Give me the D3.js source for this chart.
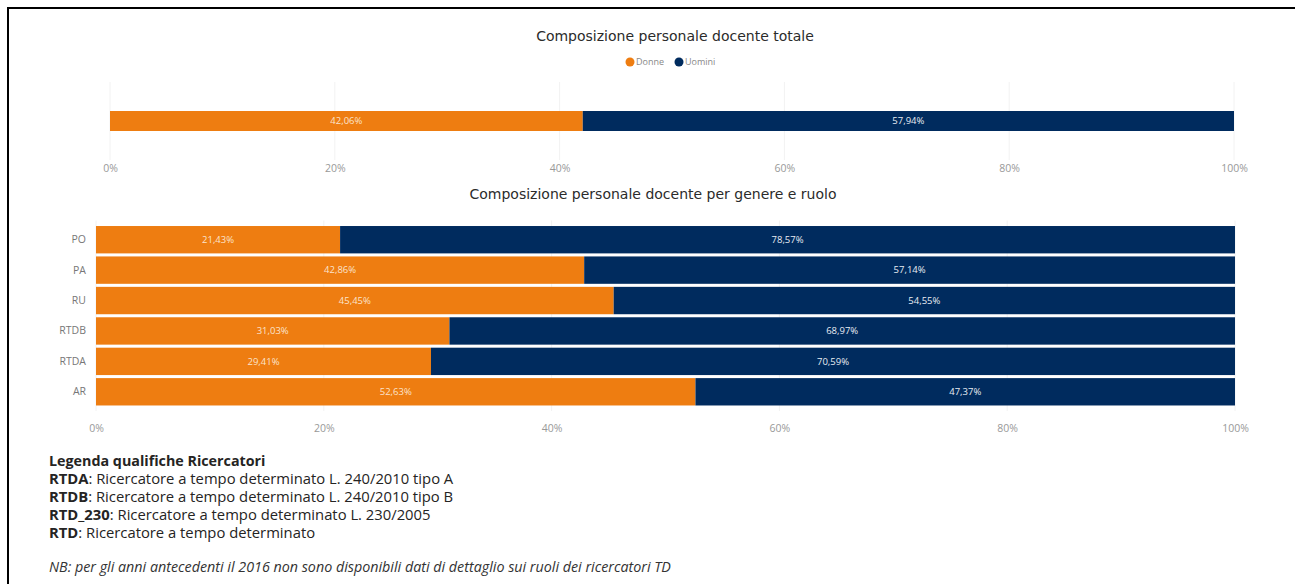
<!DOCTYPE html>
<html>
<head>
<meta charset="utf-8">
<script src="https://cdn.jsdelivr.net/npm/d3@7"></script>
<style>
  html, body { margin: 0; padding: 0; background: #fff; }
  svg { display: block; }
</style>
</head>
<body>
<svg id="chart" width="1295" height="584"></svg>
<script>
// Overall composition (Donne / Uomini, %)
const totalDonne = [42.06];
const totalUomini = [57.94];

// Composition by role
const roles = ["PO", "PA", "RU", "RTDB", "RTDA", "AR"];
const donne = [21.43, 42.86, 45.45, 31.03, 29.41, 52.63];
const uomini = [78.57, 57.14, 54.55, 68.97, 70.59, 47.37];

const tickValues = [0, 20, 40, 60, 80, 100];
const seriesNames = ["Donne", "Uomini"];
const seriesColors = ["#EE7D11", "#002B5E"];

const legendNotes = [
  ["RTDA", ": Ricercatore a tempo determinato L. 240/2010 tipo A"],
  ["RTDB", ": Ricercatore a tempo determinato L. 240/2010 tipo B"],
  ["RTD_230", ": Ricercatore a tempo determinato L. 230/2005"],
  ["RTD", ": Ricercatore a tempo determinato"]
];

const svg = d3.select("#chart");
const fmt = v => d3.format(".2f")(v).replace(".", ",") + "%";
const titleFont = "'DejaVu Sans', sans-serif";
const bodyFont = "'Open Sans', sans-serif";

// Frame
svg.append("path")
  .attr("d", "M8,584 V8 H1295")
  .attr("fill", "none").attr("stroke", "#000").attr("stroke-width", 2);

function stackedChart(g, cats, a, b, x, y, labels) {
  // gridlines
  g.selectAll(".grid").data(tickValues).join("line")
    .attr("class", "grid")
    .attr("x1", d => x(d)).attr("x2", d => x(d))
    .attr("y1", y.range()[0] - 4).attr("y2", y.range()[1] + 4)
    .attr("stroke", "#f2f2f2");
  const rows = cats.map((c, i) => ({ c, a: a[i], b: b[i] }));
  const row = g.selectAll(".row").data(rows).join("g");
  row.append("rect")
    .attr("x", x(0)).attr("y", d => y(d.c))
    .attr("width", d => x(d.a) - x(0)).attr("height", y.bandwidth())
    .attr("fill", seriesColors[0]);
  row.append("rect")
    .attr("x", d => x(d.a)).attr("y", d => y(d.c))
    .attr("width", d => x(d.a + d.b) - x(d.a)).attr("height", y.bandwidth())
    .attr("fill", seriesColors[1]);
  row.append("text")
    .attr("x", d => (x(0) + x(d.a)) / 2).attr("y", d => y(d.c) + y.bandwidth() / 2)
    .attr("dy", "0.35em").attr("text-anchor", "middle")
    .attr("font-family", bodyFont).attr("font-size", 9.5).attr("fill", "#fbe3cc")
    .text(d => fmt(d.a));
  row.append("text")
    .attr("x", d => (x(d.a) + x(d.a + d.b)) / 2).attr("y", d => y(d.c) + y.bandwidth() / 2)
    .attr("dy", "0.35em").attr("text-anchor", "middle")
    .attr("font-family", bodyFont).attr("font-size", 9.5).attr("fill", "#e8ecf2")
    .text(d => fmt(d.b));
  if (labels) {
    const yAxis = g.append("g").attr("transform", `translate(${x(0)},0)`)
      .call(d3.axisLeft(y).tickSize(0).tickPadding(10));
    yAxis.select(".domain").remove();
    yAxis.selectAll("text").attr("font-family", bodyFont).attr("font-size", 10.5).attr("fill", "#777");
  }
}

function xAxis(g, x, yPos) {
  const ax = g.append("g").attr("transform", `translate(0,${yPos})`)
    .call(d3.axisBottom(x).tickValues(tickValues).tickSize(0).tickFormat(d => d + "%"));
  ax.select(".domain").remove();
  ax.selectAll("text").attr("font-family", bodyFont).attr("font-size", 10.5).attr("fill", "#999");
}

// Chart 1: overall
const g1 = svg.append("g");
const x1 = d3.scaleLinear().domain([0, 100]).range([110, 1234]);
const y1 = d3.scaleBand().domain(["Totale"]).range([111, 131]).padding(0);
g1.append("text").attr("x", 675).attr("y", 41).attr("text-anchor", "middle")
  .attr("font-family", titleFont).attr("font-size", 14).attr("fill", "#2b2b2b")
  .text("Composizione personale docente totale");
// legend
const leg = g1.append("g").attr("transform", "translate(630,62)");
let lx = 0;
seriesNames.forEach((n, i) => {
  leg.append("circle").attr("cx", lx).attr("cy", 0).attr("r", 4.5).attr("fill", seriesColors[i]);
  leg.append("text").attr("x", lx + 6).attr("y", 0).attr("dy", "0.35em")
    .attr("font-family", bodyFont).attr("font-size", 9).attr("fill", "#888").text(n);
  lx += 49;
});
stackedChart(g1, ["Totale"], totalDonne, totalUomini, x1, y1, false);
g1.selectAll(".grid").attr("y1", 82).attr("y2", 160);
xAxis(g1, x1, 162);

// Chart 2: by role
const g2 = svg.append("g");
const x2 = d3.scaleLinear().domain([0, 100]).range([96, 1235]);
const y2 = d3.scaleBand().domain(roles).range([224.5, 407]).paddingInner(0.1).paddingOuter(0.05);
g2.append("text").attr("x", 653).attr("y", 199).attr("text-anchor", "middle")
  .attr("font-family", titleFont).attr("font-size", 14).attr("fill", "#2b2b2b")
  .text("Composizione personale docente per genere e ruolo");
stackedChart(g2, roles, donne, uomini, x2, y2, true);
xAxis(g2, x2, 422);

// Role legend
const notes = svg.append("g").attr("font-family", bodyFont).attr("font-size", 14.8).attr("fill", "#252423");
notes.append("text").attr("x", 49).attr("y", 466).attr("font-weight", "bold")
  .attr("font-size", 14.3).text("Legenda qualifiche Ricercatori");
legendNotes.forEach((n, i) => {
  const t = notes.append("text").attr("x", 49).attr("y", 484 + i * 18);
  t.append("tspan").attr("font-weight", "bold").text(n[0]);
  t.append("tspan").text(n[1]);
});
notes.append("text").attr("x", 49).attr("y", 572).attr("font-style", "italic")
  .attr("font-size", 14.3).attr("fill", "#333")
  .text("NB: per gli anni antecedenti il 2016 non sono disponibili dati di dettaglio sui ruoli dei ricercatori TD");
</script>
</body>
</html>
